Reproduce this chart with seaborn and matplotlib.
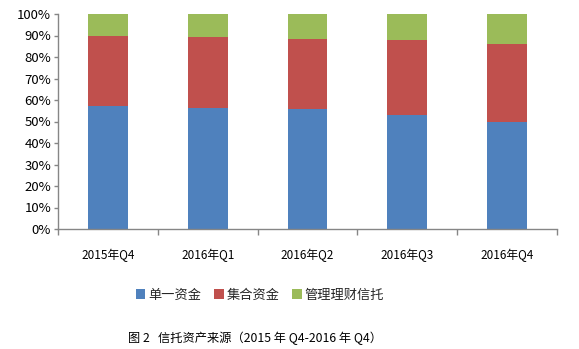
import matplotlib
matplotlib.use("Agg")
import matplotlib.pyplot as plt
import seaborn as sns
import pandas as pd
import numpy as np
from matplotlib.patches import Patch
from matplotlib.ticker import FixedLocator

sns.set_theme(style="white")
plt.rcParams['font.family'] = ['Noto Sans CJK SC', 'DejaVu Sans']

categories = ["2015年Q4", "2016年Q1", "2016年Q2", "2016年Q3", "2016年Q4"]
series_names = ["单一资金", "集合资金", "管理理财信托"]
single = [57.3, 56.4, 55.8, 52.9, 49.8]
collective = [32.6, 33.0, 32.6, 35.0, 36.4]
managed = [10.1, 10.6, 11.6, 12.1, 13.8]
colors = ["#4F81BD", "#C0504D", "#9BBB59"]

df = pd.DataFrame({"cat": categories, "s1": single, "s2": collective, "s3": managed})
df["c1"] = df["s1"]
df["c2"] = df["s1"] + df["s2"]
df["c3"] = df["c2"] + df["s3"]

fig = plt.figure(figsize=(5.79, 3.49), dpi=100)
ax = fig.add_axes([58/579, 1-229/349, (557-58)/579, (229-14)/349])

for col, c in zip(["c3", "c2", "c1"], colors[::-1]):
    sns.barplot(data=df, x="cat", y=col, color=c, width=0.4, ax=ax,
                saturation=1, linewidth=0, errorbar=None)

ax.set_xlim(-0.5, 4.5)
ax.set_ylim(0, 100)
ax.set_yticks(np.arange(0, 101, 10))
ax.set_yticklabels([f"{v}%" for v in range(0, 101, 10)], fontsize=9.5, color="#000000")
ax.set_xlabel("")
ax.set_ylabel("")
ax.tick_params(axis='x', which='major', length=0, labelsize=8.5, pad=14, labelcolor="#000000")
ax.xaxis.set_minor_locator(FixedLocator(np.arange(-0.5, 5, 1)))
ax.tick_params(axis='x', which='minor', length=4, color="#868686", width=1, direction='out', bottom=True)
ax.tick_params(axis='y', length=3, color="#868686", width=1, direction='out', left=True, pad=2)
for s in ["top", "right"]:
    ax.spines[s].set_visible(False)
for s in ["left", "bottom"]:
    ax.spines[s].set_color("#868686")
    ax.spines[s].set_linewidth(1)

handles = [Patch(facecolor=c, edgecolor='none') for c in colors]
fig.legend(handles, series_names, loc="center", bbox_to_anchor=(260/579, 1-295/349),
           ncol=3, frameon=False, fontsize=9.5, handlelength=0.7, handleheight=0.7,
           handletextpad=0.2, columnspacing=1.0)

fig.text(255/579, 1-338/349, "图 2   信托资产来源（2015 年 Q4-2016 年 Q4）",
         ha="center", va="center", fontsize=8.8, color="#000000")

fig.savefig("out.png", dpi=100)
